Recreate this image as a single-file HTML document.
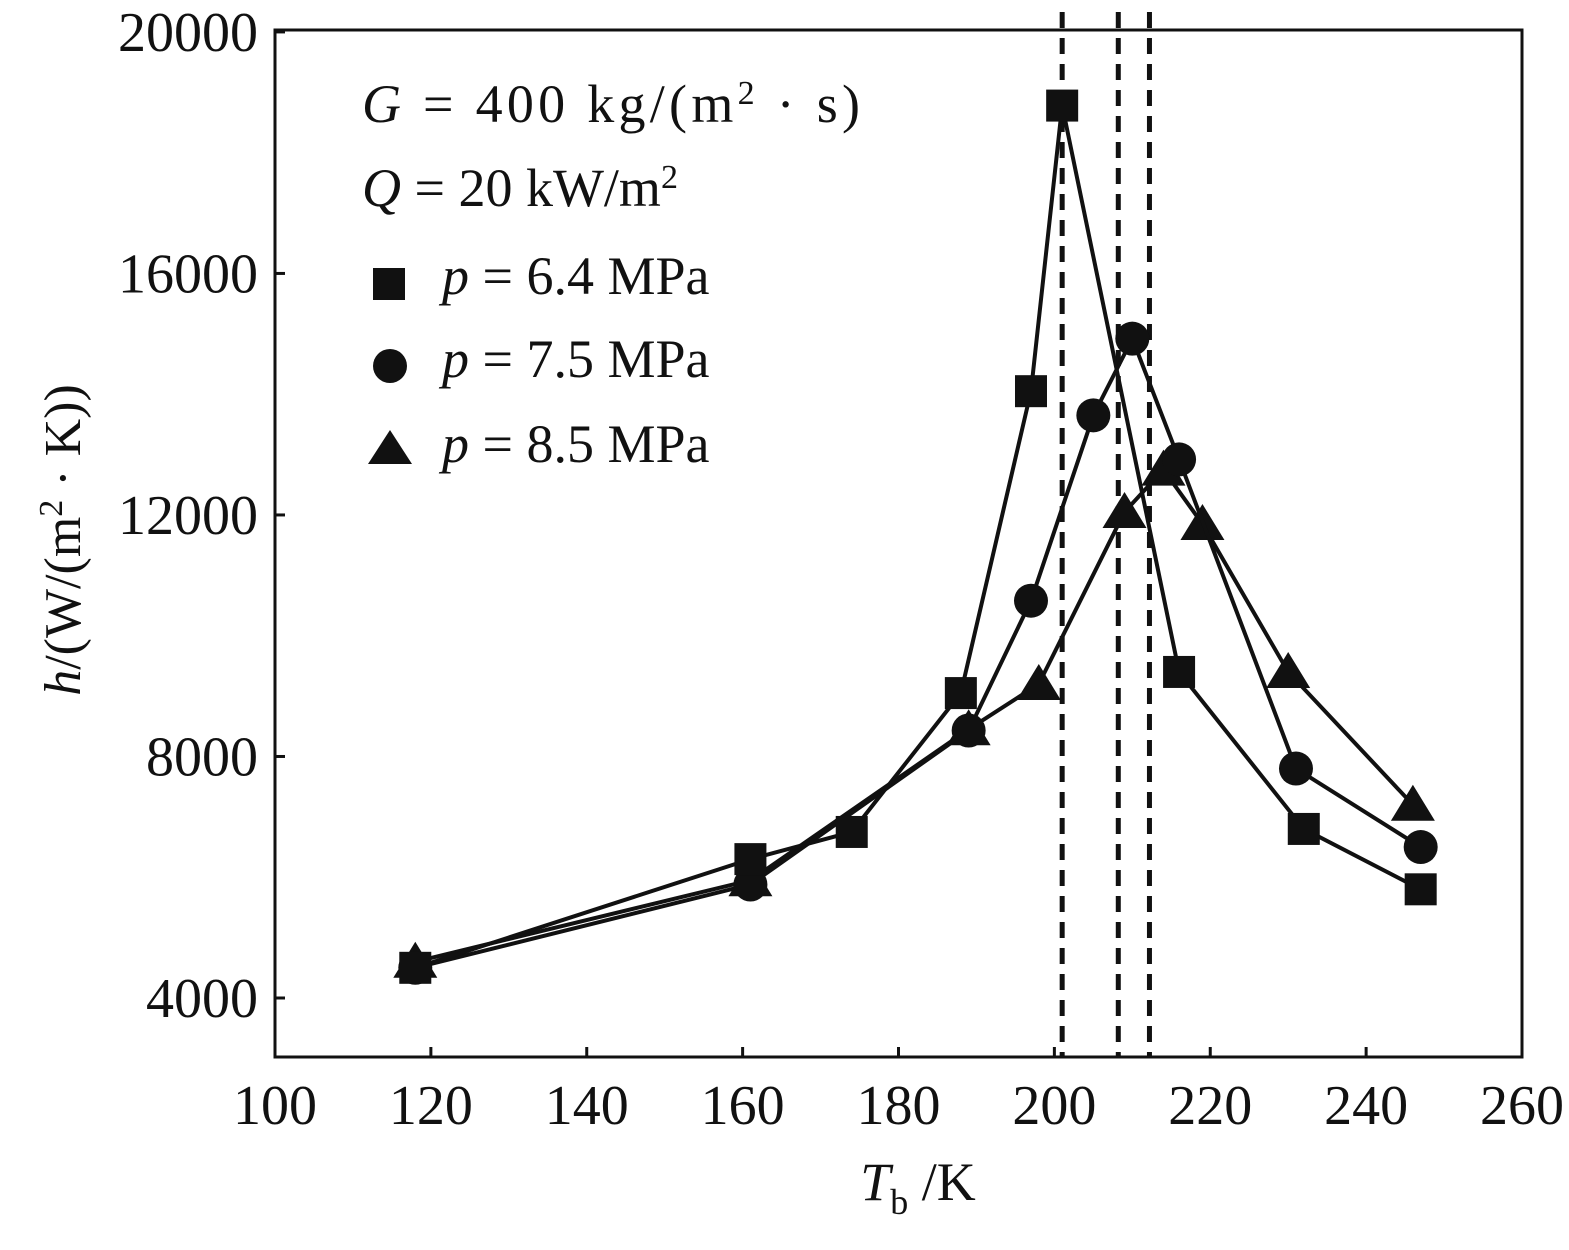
<!DOCTYPE html>
<html><head><meta charset="utf-8"><style>
body{margin:0;background:#fff;}
svg text{font-family:"Liberation Serif",serif;fill:#111;}
</style></head><body>
<svg id="chart" width="1569" height="1245" viewBox="0 0 1569 1245">
<rect x="275" y="30" width="1247" height="1027" fill="none" stroke="#111" stroke-width="3"/>
<g id="axes"></g><g id="dashes"></g><g id="series"></g>
<g>
<text x="362" y="122" font-size="54" textLength="498"><tspan font-style="italic">G</tspan> = 400 kg/(m<tspan baseline-shift="super" font-size="34">2</tspan>  ·  s)</text>
<text x="362" y="206" font-size="54"><tspan font-style="italic">Q</tspan> = 20 kW/m<tspan baseline-shift="super" font-size="34">2</tspan></text>
<rect x="373" y="268" width="32" height="32" fill="#111"/>
<text x="442" y="294" font-size="54"><tspan font-style="italic">p</tspan> = 6.4 MPa</text>
<circle cx="390" cy="366" r="17" fill="#111"/>
<text x="442" y="377" font-size="54"><tspan font-style="italic">p</tspan> = 7.5 MPa</text>
<polygon points="390,430 368,464 412,464" fill="#111"/>
<text x="442" y="462" font-size="54"><tspan font-style="italic">p</tspan> = 8.5 MPa</text>
</g>
<text x="918" y="1200" font-size="54" text-anchor="middle"><tspan font-style="italic">T</tspan><tspan font-size="36" dy="14">b</tspan><tspan dy="-14"> /K</tspan></text>
<text transform="translate(80,540) rotate(-90)" font-size="52" text-anchor="middle"><tspan font-style="italic">h</tspan>/(W/(m<tspan baseline-shift="super" font-size="34">2</tspan>  ·  K))</text>
</svg>
<script>
const xTicks=[100,120,140,160,180,200,220,240,260];
const yTicks=[4000,8000,12000,16000,20000];
const dashT=[201,208.2,212.2];
const t64=[118,161,174,188,197,201,216,232,247];
const h64=[4500,6300,6750,9050,14050,18780,9400,6800,5800];
const t75=[118,161,189,197,205,210,216,231,247];
const h75=[4500,5880,8430,10580,13650,14920,12920,7800,6500];
const t85=[118,161,189,198,209,214,219,230,246];
const h85=[4600,5950,8450,9200,12050,12750,11850,9400,7200];
const X=v=>275+(v-100)*1247/160;
const Y=v=>998-(v-4000)*0.06038;
const NS='http://www.w3.org/2000/svg';
function mk(tag,attrs,parent){const e=document.createElementNS(NS,tag);for(const k in attrs)e.setAttribute(k,attrs[k]);parent.appendChild(e);return e;}
const axes=document.getElementById('axes');
xTicks.forEach(t=>{
 const l=mk('line',{x1:X(t),x2:X(t),y1:1057,y2:1047,stroke:'#111','stroke-width':3},axes);
 
 
 const tx=mk('text',{x:X(t),y:1124,'font-size':56,'text-anchor':'middle'},axes);tx.textContent=t;
 
 
});
yTicks.forEach(t=>{
 const l=mk('line',{x1:275,x2:285,y1:Y(t),y2:Y(t),stroke:'#111','stroke-width':3},axes);
 
 
 const tx=mk('text',{x:258,y:Y(t)+19,'font-size':56,'text-anchor':'end'},axes);tx.textContent=t;
 
 
});
const dg=document.getElementById('dashes');
dashT.forEach(t=>{
 const l=mk('line',{x1:X(t),x2:X(t),y1:12,y2:1057,stroke:'#111','stroke-width':5,'stroke-dasharray':'16 10'},dg);
 
 
});
const sg=document.getElementById('series');
function series(ts,hs,shape,name){
 const pl=mk('polyline',{points:ts.map((t,i)=>X(t)+','+Y(hs[i])).join(' '),fill:'none',stroke:'#111','stroke-width':4},sg);
 
 
 ts.forEach((t,i)=>{
  const x=X(t),y=Y(hs[i]);let m;
  if(shape==='s')m=mk('rect',{x:x-16,y:y-16,width:32,height:32,fill:'#111'},sg);
  else if(shape==='c')m=mk('circle',{cx:x,cy:y,r:17,fill:'#111'},sg);
  else m=mk('polygon',{points:`${x},${y-20} ${x-22},${y+16} ${x+22},${y+16}`,fill:'#111'},sg);
  
  
 });
}
series(t85,h85,'t','p85');
series(t75,h75,'c','p75');
series(t64,h64,'s','p64');
</script>
</body></html>
